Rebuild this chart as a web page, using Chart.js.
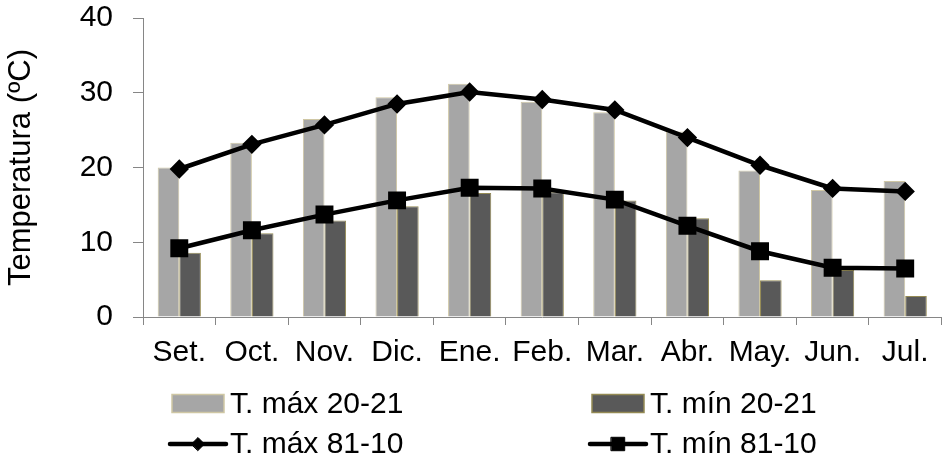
<!DOCTYPE html>
<html>
<head>
<meta charset="utf-8">
<script src="https://cdn.jsdelivr.net/npm/chart.js@4"></script>
<style>
  html, body { margin: 0; padding: 0; background: #ffffff; }
  #wrap { width: 944px; height: 460px; position: relative; }
</style>
</head>
<body>
<div id="wrap"><canvas id="chart" width="944" height="460"></canvas></div>
<script>
// Monthly temperatures: season 2020-21 (bars) vs. 1981-2010 normals (lines)
const months = ["Set.", "Oct.", "Nov.", "Dic.", "Ene.", "Feb.", "Mar.", "Abr.", "May.", "Jun.", "Jul."];
const tMax2021 = [20.0, 23.3, 26.5, 29.4, 31.2, 28.8, 27.4, 24.8, 19.6, 17.0, 18.2];
const tMin2021 = [8.6, 11.2, 12.9, 14.8, 16.6, 16.7, 15.6, 13.2, 4.9, 6.3, 2.8];
const tMax8110 = [19.8, 23.1, 25.7, 28.5, 30.1, 29.1, 27.7, 24.0, 20.3, 17.2, 16.8];
const tMin8110 = [9.2, 11.6, 13.7, 15.6, 17.3, 17.2, 15.7, 12.2, 8.8, 6.6, 6.5];
const seriesNames = ["T. máx 20-21", "T. mín 20-21", "T. máx 81-10", "T. mín 81-10"];
const yTicks = [0, 10, 20, 30, 40];

const FONT = "'Liberation Sans', Arial, sans-serif";
const AXIS_GREY = "#868686";

// Two-column legend painted under the axis
const legendGrid = {
  id: "legendGrid",
  afterDraw(chart) {
    const ctx = chart.ctx;
    const cols = [170, 590];
    const rows = [403.5, 444];
    const swatchW = 54;
    ctx.save();
    ctx.font = "30px " + FONT;
    ctx.textBaseline = "middle";
    ctx.textAlign = "left";
    chart.data.datasets.forEach((ds, i) => {
      const x = cols[i % 2];
      const y = rows[Math.floor(i / 2)];
      if (ds.type === "bar") {
        ctx.fillStyle = ds.backgroundColor;
        ctx.fillRect(x + 2, y - 9, swatchW - 2, 18);
        ctx.strokeStyle = ds.borderColor;
        ctx.lineWidth = 1.5;
        ctx.strokeRect(x + 2, y - 9, swatchW - 2, 18);
      } else {
        ctx.strokeStyle = ds.borderColor;
        ctx.lineWidth = ds.borderWidth;
        ctx.lineCap = "round";
        ctx.beginPath();
        ctx.moveTo(x, y);
        ctx.lineTo(x + swatchW + 2, y);
        ctx.stroke();
        ctx.fillStyle = ds.pointBackgroundColor;
        ctx.strokeStyle = ds.pointBorderColor;
        ctx.lineWidth = 1;
        Chart.helpers.drawPoint(ctx, { pointStyle: ds.pointStyle, radius: ds.pointRadius, rotation: 0, borderWidth: 1 }, x + swatchW / 2 + 1, y);
      }
      ctx.fillStyle = "#000000";
      ctx.fillText(ds.label, x + swatchW + 6, y + 1);
    });
    ctx.restore();
  }
};

new Chart(document.getElementById("chart"), {
  data: {
    labels: months,
    datasets: [
      {
        type: "bar", label: seriesNames[0], data: tMax2021,
        backgroundColor: "#A6A6A6", borderColor: "#CFC7A4", borderWidth: 1,
        categoryPercentage: 0.595, barPercentage: 1.0, order: 2
      },
      {
        type: "bar", label: seriesNames[1], data: tMin2021,
        backgroundColor: "#595959", borderColor: "#948A54", borderWidth: 1,
        categoryPercentage: 0.595, barPercentage: 1.0, order: 2
      },
      {
        type: "line", label: seriesNames[2], data: tMax8110,
        borderColor: "#000000", borderWidth: 4.5, tension: 0,
        pointStyle: "rectRot", pointRadius: 6.5,
        pointBackgroundColor: "#000000", pointBorderColor: "#000000", order: 1
      },
      {
        type: "line", label: seriesNames[3], data: tMin8110,
        borderColor: "#000000", borderWidth: 4.5, tension: 0,
        pointStyle: "rect", pointRadius: 9.5,
        pointBackgroundColor: "#000000", pointBorderColor: "#000000", order: 1
      }
    ]
  },
  options: {
    responsive: false,
    animation: false,
    layout: { autoPadding: false, padding: { top: 18, right: 2.5, left: 0, bottom: 0 } },
    plugins: {
      legend: { display: false },
      tooltip: { enabled: false }
    },
    scales: {
      x: {
        offset: true,
        grid: {
          offset: true, drawOnChartArea: false, drawTicks: true,
          tickLength: 8, color: AXIS_GREY, lineWidth: 1
        },
        border: { display: true, color: AXIS_GREY, width: 1 },
        ticks: {
          autoSkip: false, maxRotation: 0, minRotation: 0,
          color: "#000000", padding: 10,
          font: { family: FONT, size: 30 }
        },
        afterFit(scale) {
          scale.height = 143;
          scale.paddingLeft = 0;
          scale.paddingRight = 0;
        }
      },
      y: {
        min: 0, max: 40,
        afterBuildTicks(scale) { scale.ticks = yTicks.map(v => ({ value: v })); },
        grid: {
          drawOnChartArea: false, drawTicks: true,
          tickLength: 10, color: AXIS_GREY, lineWidth: 1
        },
        border: { display: true, color: AXIS_GREY, width: 1 },
        ticks: {
          color: "#000000", padding: 20,
          font: { family: FONT, size: 30 }
        },
        title: {
          display: true, text: "Temperatura (ºC)", color: "#000000",
          font: { family: FONT, size: 31 }, padding: { top: 3, bottom: 0 }
        },
        afterFit(scale) {
          scale.width = 143;
          scale.paddingTop = 0;
          scale.paddingBottom = 0;
        }
      }
    }
  },
  plugins: [legendGrid]
});
</script>
</body>
</html>
